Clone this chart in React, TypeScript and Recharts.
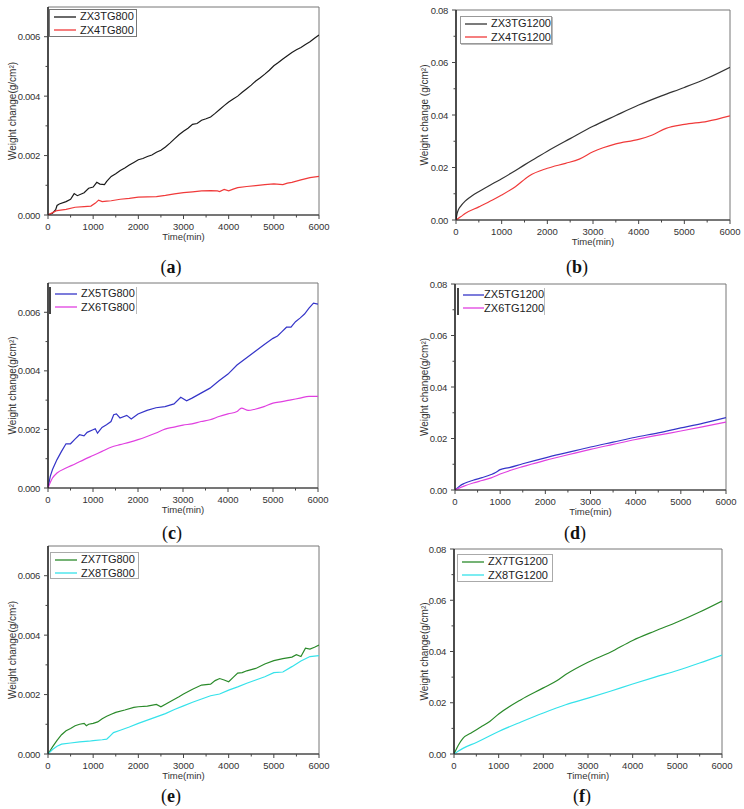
import React from "react";
import { LineChart, Line, XAxis, YAxis, Legend, ReferenceArea, Label } from "recharts";

// time axis ticks (minor every 500 min, labels every 1000)
const timeTicks = [0, 500, 1000, 1500, 2000, 2500, 3000, 3500, 4000, 4500, 5000, 5500, 6000];
const tg800Ticks = [0, 0.001, 0.002, 0.003, 0.004, 0.005, 0.006];
const tg1200Ticks = [0, 0.01, 0.02, 0.03, 0.04, 0.05, 0.06, 0.07, 0.08];

// [time (min), weight change (g/cm2)]
const ZX3TG800 = [
  [0, 0], [100, 0.00006], [170, 0.00018], [200, 0.00032], [250, 0.00037], [400, 0.00045], [500, 0.00053],
  [580, 0.00072], [650, 0.00065], [800, 0.00075], [900, 0.0009], [1000, 0.00094], [1080, 0.0011],
  [1150, 0.00104], [1250, 0.00102], [1300, 0.00113], [1400, 0.0013], [1500, 0.00139], [1600, 0.0015],
  [1700, 0.00158], [1800, 0.00168], [1900, 0.00177], [2000, 0.00186], [2100, 0.0019], [2200, 0.00197],
  [2300, 0.00202], [2400, 0.00211], [2500, 0.00218], [2600, 0.00229], [2700, 0.00242], [2800, 0.00256],
  [2900, 0.0027], [3000, 0.00282], [3100, 0.00292], [3200, 0.00305], [3300, 0.00308], [3400, 0.00319],
  [3500, 0.00324], [3600, 0.0033], [3700, 0.00342], [3800, 0.00355], [3900, 0.00368], [4000, 0.0038],
  [4100, 0.0039], [4200, 0.004], [4300, 0.00413], [4400, 0.00425], [4500, 0.00437], [4600, 0.00451],
  [4700, 0.00462], [4800, 0.00474], [4900, 0.00487], [5000, 0.00502], [5100, 0.00513], [5200, 0.00525],
  [5300, 0.00536], [5400, 0.00547], [5500, 0.00556], [5600, 0.00564], [5700, 0.00574], [5800, 0.00583],
  [5900, 0.00595], [6000, 0.00606],
];
const ZX4TG800 = [
  [0, 0], [100, 0.00008], [200, 0.00015], [400, 0.00019], [600, 0.00026], [800, 0.00028], [950, 0.0003],
  [1050, 0.0004], [1120, 0.0005], [1200, 0.00045], [1300, 0.00047], [1400, 0.00048], [1600, 0.00053],
  [1800, 0.00056], [2000, 0.0006], [2200, 0.00061], [2400, 0.00062], [2600, 0.00066], [2800, 0.00071],
  [3000, 0.00075], [3200, 0.00078], [3400, 0.00081], [3600, 0.00082], [3750, 0.00081], [3800, 0.00079],
  [3900, 0.00086], [4000, 0.00081], [4100, 0.00087], [4200, 0.00092], [4400, 0.00096], [4600, 0.00099],
  [4800, 0.00102], [5000, 0.00105], [5200, 0.00102], [5300, 0.00107], [5400, 0.0011], [5600, 0.00118],
  [5800, 0.00126], [6000, 0.0013],
];
const ZX3TG1200 = [
  [0, 0], [25, 0.0025], [50, 0.0038], [100, 0.0052], [200, 0.0072], [300, 0.0086], [400, 0.0098],
  [600, 0.0118], [800, 0.0138], [1000, 0.0157], [1250, 0.0183], [1500, 0.021], [1750, 0.0236],
  [2000, 0.0262], [2500, 0.031], [3000, 0.0357], [3500, 0.0398], [4000, 0.0438], [4500, 0.0473],
  [5000, 0.0505], [5500, 0.054], [6000, 0.0582],
];
const ZX4TG1200 = [
  [0, 0], [100, 0.0012], [200, 0.0025], [500, 0.005], [800, 0.0076], [1000, 0.0095], [1300, 0.0127],
  [1600, 0.0168], [2000, 0.0197], [2400, 0.0216], [2700, 0.0232], [3000, 0.026], [3500, 0.029],
  [4000, 0.0307], [4300, 0.0324], [4600, 0.0349], [5000, 0.0364], [5500, 0.0376], [6000, 0.0397],
];
const ZX5TG800 = [
  [0, 0], [50, 0.0004], [100, 0.00063], [200, 0.00097], [300, 0.00125], [400, 0.00151], [500, 0.00151],
  [600, 0.00167], [700, 0.00182], [800, 0.00178], [870, 0.0019], [1000, 0.00199], [1050, 0.00202],
  [1100, 0.00187], [1200, 0.00207], [1300, 0.00216], [1400, 0.00227], [1460, 0.0025], [1520, 0.00253],
  [1600, 0.00239], [1750, 0.00248], [1850, 0.00236], [2000, 0.00253], [2200, 0.00265], [2400, 0.00274],
  [2600, 0.00278], [2800, 0.00287], [2950, 0.0031], [3080, 0.00298], [3200, 0.00307], [3400, 0.00324],
  [3600, 0.00341], [3800, 0.00366], [4000, 0.00389], [4200, 0.0042], [4400, 0.00443], [4600, 0.00466],
  [4800, 0.00489], [5000, 0.00511], [5100, 0.00519], [5200, 0.00534], [5300, 0.00549], [5400, 0.00549],
  [5500, 0.00568], [5600, 0.0058], [5700, 0.00594], [5800, 0.00614], [5900, 0.00631], [6000, 0.00628],
];
const ZX6TG800 = [
  [0, 0], [100, 0.00034], [200, 0.00051], [400, 0.00068], [600, 0.00082], [800, 0.00097], [1000, 0.00111],
  [1200, 0.00125], [1400, 0.00139], [1600, 0.00148], [1800, 0.00156], [2000, 0.00165], [2200, 0.00176],
  [2400, 0.00188], [2600, 0.00201], [2800, 0.00208], [3000, 0.00215], [3200, 0.00219], [3400, 0.00227],
  [3600, 0.00233], [3800, 0.00244], [4000, 0.00253], [4200, 0.00261], [4300, 0.00273], [4450, 0.00265],
  [4600, 0.00269], [4800, 0.00278], [5000, 0.0029], [5200, 0.00295], [5400, 0.00301], [5600, 0.00307],
  [5800, 0.00313], [6000, 0.00313],
];
const ZX5TG1200 = [
  [0, 0], [100, 0.0015], [200, 0.0025], [400, 0.0038], [600, 0.0048], [800, 0.006], [900, 0.0068],
  [1000, 0.0079], [1200, 0.0087], [1500, 0.0102], [2000, 0.0125], [2500, 0.0146], [3000, 0.0167],
  [3500, 0.0186], [4000, 0.0205], [4500, 0.0222], [5000, 0.0241], [5500, 0.026], [6000, 0.0281],
];
const ZX6TG1200 = [
  [0, 0], [200, 0.0015], [400, 0.0027], [600, 0.0037], [800, 0.0047], [1000, 0.0062], [1500, 0.0091],
  [2000, 0.0115], [2500, 0.0137], [3000, 0.0158], [3500, 0.0177], [4000, 0.0196], [4500, 0.0213],
  [5000, 0.0229], [5500, 0.0246], [6000, 0.0264],
];
const ZX7TG800 = [
  [0, 0], [100, 0.00024], [200, 0.00046], [300, 0.00065], [400, 0.00078], [500, 0.00086], [600, 0.00095],
  [700, 0.001], [800, 0.00103], [850, 0.00095], [900, 0.001], [1000, 0.00103], [1100, 0.00108],
  [1200, 0.00119], [1300, 0.00127], [1400, 0.00134], [1500, 0.0014], [1700, 0.00148], [1900, 0.00157],
  [2000, 0.00159], [2200, 0.00161], [2400, 0.00167], [2500, 0.00159], [2700, 0.00176], [2900, 0.00193],
  [3000, 0.00202], [3200, 0.00218], [3400, 0.00232], [3600, 0.00235], [3700, 0.00247], [3800, 0.00254],
  [3900, 0.00249], [4000, 0.00243], [4100, 0.00258], [4200, 0.00272], [4300, 0.00274], [4400, 0.0028],
  [4600, 0.00288], [4800, 0.00303], [5000, 0.00314], [5200, 0.00321], [5400, 0.00326], [5500, 0.00334],
  [5600, 0.00328], [5700, 0.00356], [5800, 0.00353], [5900, 0.00359], [6000, 0.00367],
];
const ZX8TG800 = [
  [0, 0], [100, 0.00015], [200, 0.00026], [300, 0.00033], [500, 0.00037], [700, 0.00041], [900, 0.00043],
  [1000, 0.00045], [1200, 0.00048], [1300, 0.0005], [1350, 0.00057], [1450, 0.00072], [1600, 0.0008],
  [1800, 0.00091], [2000, 0.00103], [2200, 0.00114], [2400, 0.00125], [2600, 0.00136], [2800, 0.0015],
  [3000, 0.00162], [3200, 0.00174], [3400, 0.00185], [3600, 0.00196], [3800, 0.00202], [4000, 0.00215],
  [4200, 0.00226], [4400, 0.00238], [4600, 0.00249], [4800, 0.0026], [5000, 0.00274], [5200, 0.00276],
  [5400, 0.00294], [5600, 0.00313], [5800, 0.00328], [6000, 0.00331],
];
const ZX7TG1200 = [
  [0, 0], [100, 0.0035], [200, 0.0061], [400, 0.0084], [600, 0.0105], [800, 0.0127], [1000, 0.0156],
  [1500, 0.0212], [2000, 0.0258], [2300, 0.0286], [2500, 0.031], [3000, 0.0358], [3500, 0.0397],
  [4000, 0.0443], [4500, 0.048], [5000, 0.0515], [5500, 0.0554], [6000, 0.0597],
];
const ZX8TG1200 = [
  [0, 0], [100, 0.0012], [200, 0.0022], [500, 0.0045], [1000, 0.0088], [1500, 0.0125], [2000, 0.016],
  [2500, 0.0192], [3000, 0.0218], [3500, 0.0245], [4000, 0.0273], [4500, 0.03], [5000, 0.0326],
  [5500, 0.0355], [6000, 0.0386],
];

const FONT = "'Liberation Sans', Arial, sans-serif";

type Series = { name: string; color: string; points: number[][]; smooth?: boolean };

const toRows = (pts: number[][]) => pts.map(([t, w]) => ({ t, w }));

function XTick(props: any) {
  const { x, y, payload } = props;
  const v = payload.value;
  const major = v % 1000 === 0;
  return (
    <g>
      <line x1={x} x2={x} y1={y} y2={y + (major ? 4 : 2.5)} stroke="#444" />
      {major && (
        <text x={x} y={y + 15} textAnchor="middle" fontSize={9.5} fontFamily={FONT} fill="#333">
          {v}
        </text>
      )}
    </g>
  );
}

function YTick(props: any) {
  const { x, y, payload, step, decimals } = props;
  const v = payload.value;
  const major = Math.round(v / step) % 2 === 0;
  return (
    <g>
      <line x1={x - (major ? 4 : 2.5)} x2={x} y1={y} y2={y} stroke="#444" />
      {major && (
        <text x={x - 8} y={y + 3.5} textAnchor="end" fontSize={9.5} letterSpacing={-0.3} fontFamily={FONT} fill="#333">
          {v.toFixed(decimals)}
        </text>
      )}
    </g>
  );
}

type PanelProps = {
  left: number;
  top: number;
  margin: { top: number; right: number; bottom: number; left: number };
  yMax: number;
  yTicks: number[];
  step: number;
  decimals: number;
  yTitle: string;
  titleOffset: number;
  series: Series[];
  legendPos: { left: number; top: number };
  legendBox: React.CSSProperties;
  tag: string;
  tagX: number;
  tagY: number;
};

function Panel(p: PanelProps) {
  const W = 372;
  const H = 255;
  // axes get 1px of room so that they are drawn; margins shrink by the same amount
  const m = { ...p.margin, left: p.margin.left - 1, bottom: p.margin.bottom - 1 };
  const renderLegend = (lp: any) => (
    <div style={{ ...p.legendBox, fontFamily: FONT, fontSize: 11, color: "#222", boxSizing: "border-box" }}>
      {(lp.payload || []).map((e: any) => (
        <div key={e.value} style={{ display: "flex", alignItems: "center", height: 13.5 }}>
          <svg width={26} height={4} style={{ marginLeft: 4 }}>
            <line x1={0} x2={22} y1={2} y2={2} stroke={e.color} strokeWidth={1.3} />
          </svg>
          <span style={{ lineHeight: "13.5px", whiteSpace: "nowrap" }}>{e.value}</span>
        </div>
      ))}
    </div>
  );
  return (
    <div style={{ position: "absolute", left: p.left, top: p.top, width: W, height: 270 }}>
      <LineChart width={W} height={H} margin={m}>
        <XAxis
          dataKey="t"
          type="number"
          domain={[0, 6000]}
          ticks={timeTicks}
          interval={0}
          height={1}
          tickSize={0}
          tickMargin={0}
          tickLine={false}
          tick={(tp: any) => <XTick {...tp} />}
          axisLine={{ stroke: "#333" }}
          allowDataOverflow
        >
          <Label
            content={(lp: any) => {
              const vb = lp.viewBox;
              return (
                <text x={vb.x + vb.width / 2} y={vb.y + 25} textAnchor="middle" fontSize={9.5} fontFamily={FONT} fill="#333">
                  Time(min)
                </text>
              );
            }}
          />
        </XAxis>
        <YAxis
          type="number"
          domain={[0, p.yMax]}
          ticks={p.yTicks}
          interval={0}
          width={1}
          tickSize={0}
          tickMargin={0}
          tickLine={false}
          tick={(tp: any) => <YTick {...tp} step={p.step} decimals={p.decimals} />}
          axisLine={{ stroke: "#111", strokeWidth: 1.3 }}
          allowDataOverflow
        >
          <Label
            content={(lp: any) => {
              const vb = lp.viewBox;
              const cx = vb.x + vb.width - p.titleOffset;
              const cy = vb.y + vb.height / 2;
              return (
                <text
                  transform={`translate(${cx},${cy}) rotate(-90)`}
                  textAnchor="middle"
                  dominantBaseline="central"
                  fontSize={10}
                  fontFamily={FONT}
                  fill="#333"
                >
                  {p.yTitle}
                </text>
              );
            }}
          />
        </YAxis>
        <ReferenceArea x1={0} x2={6000} y1={0} y2={p.yMax} fill="none" stroke="#777" strokeWidth={1} />
        {p.series.map((s) => (
          <Line
            key={s.name}
            data={toRows(s.points)}
            dataKey="w"
            name={s.name}
            type={s.smooth ? "monotone" : "linear"}
            stroke={s.color}
            strokeWidth={1.2}
            dot={false}
            activeDot={false}
            isAnimationActive={false}
          />
        ))}
        <Legend
          layout="vertical"
          align="center"
          verticalAlign="middle"
          content={renderLegend}
          wrapperStyle={{ left: p.legendPos.left, top: p.legendPos.top, width: "auto", height: "auto" }}
        />
      </LineChart>
      <div
        style={{
          position: "absolute",
          left: p.tagX - 30,
          top: p.tagY - 11,
          width: 60,
          textAlign: "center",
          fontFamily: "'Liberation Serif', 'DejaVu Serif', serif",
          fontSize: 18,
          lineHeight: "22px",
          color: "#111",
        }}
      >
        (<b>{p.tag}</b>)
      </div>
    </div>
  );
}

const boxA: React.CSSProperties = { width: 88, height: 28, border: "1px solid #777" };
const boxB: React.CSSProperties = { width: 92, height: 28, border: "1px solid #999", boxShadow: "1px 1px 0 #bbb" };
const boxC: React.CSSProperties = { width: 88, height: 27, borderLeft: "2px solid #444", borderRight: "1px solid #bbb" };
const boxE: React.CSSProperties = { width: 89, height: 27, border: "1px solid #aaa" };
const boxF: React.CSSProperties = { width: 96, height: 28, border: "1px solid #aaa" };

export default function App() {
  return (
    <div style={{ position: "absolute", left: 0, top: 0, width: 744, height: 809, background: "#fff", overflow: "hidden" }}>
      <Panel
        left={0}
        top={0}
        margin={{ top: 7, right: 53, bottom: 40, left: 48 }}
        yMax={0.007}
        yTicks={tg800Ticks}
        step={0.001}
        decimals={3}
        yTitle="Weight change(g/cm²)"
        titleOffset={36}
        series={[
          { name: "ZX3TG800", color: "#1a1a1a", points: ZX3TG800 },
          { name: "ZX4TG800", color: "#f03a3a", points: ZX4TG800 },
        ]}
        legendPos={{ left: 49, top: 9 }}
        legendBox={boxA}
        tag="a"
        tagX={171}
        tagY={267}
      />
      <Panel
        left={372}
        top={0}
        margin={{ top: 10, right: 14, bottom: 35, left: 84 }}
        yMax={0.08}
        yTicks={tg1200Ticks}
        step={0.01}
        decimals={2}
        yTitle="Weight change (g/cm²)"
        titleOffset={32}
        series={[
          { name: "ZX3TG1200", color: "#333333", points: ZX3TG1200, smooth: true },
          { name: "ZX4TG1200", color: "#f03a3a", points: ZX4TG1200, smooth: true },
        ]}
        legendPos={{ left: 88, top: 16 }}
        legendBox={boxB}
        tag="b"
        tagX={205}
        tagY={267}
      />
      <Panel
        left={0}
        top={270}
        margin={{ top: 13, right: 54, bottom: 37, left: 48 }}
        yMax={0.007}
        yTicks={tg800Ticks}
        step={0.001}
        decimals={3}
        yTitle="Weight change(g/cm²)"
        titleOffset={36}
        series={[
          { name: "ZX5TG800", color: "#3535c8", points: ZX5TG800 },
          { name: "ZX6TG800", color: "#e040e0", points: ZX6TG800, smooth: true },
        ]}
        legendPos={{ left: 49, top: 17 }}
        legendBox={boxC}
        tag="c"
        tagX={172}
        tagY={263}
      />
      <Panel
        left={372}
        top={270}
        margin={{ top: 14, right: 18, bottom: 35, left: 83 }}
        yMax={0.08}
        yTicks={tg1200Ticks}
        step={0.01}
        decimals={2}
        yTitle="Weight change(g/cm²)"
        titleOffset={31}
        series={[
          { name: "ZX5TG1200", color: "#3535c8", points: ZX5TG1200, smooth: true },
          { name: "ZX6TG1200", color: "#e040e0", points: ZX6TG1200, smooth: true },
        ]}
        legendPos={{ left: 85, top: 18 }}
        legendBox={boxC}
        tag="d"
        tagX={203}
        tagY={263}
      />
      <Panel
        left={0}
        top={535}
        margin={{ top: 11, right: 53, bottom: 36, left: 48 }}
        yMax={0.007}
        yTicks={tg800Ticks}
        step={0.001}
        decimals={3}
        yTitle="Weight change(g/cm²)"
        titleOffset={36}
        series={[
          { name: "ZX7TG800", color: "#2a8a2a", points: ZX7TG800 },
          { name: "ZX8TG800", color: "#35e2ea", points: ZX8TG800 },
        ]}
        legendPos={{ left: 50, top: 17 }}
        legendBox={boxE}
        tag="e"
        tagX={171}
        tagY={261}
      />
      <Panel
        left={372}
        top={535}
        margin={{ top: 14, right: 22, bottom: 36, left: 82 }}
        yMax={0.08}
        yTicks={tg1200Ticks}
        step={0.01}
        decimals={2}
        yTitle="Weight change(g/cm²)"
        titleOffset={30}
        series={[
          { name: "ZX7TG1200", color: "#2a8a2a", points: ZX7TG1200, smooth: true },
          { name: "ZX8TG1200", color: "#35e2ea", points: ZX8TG1200, smooth: true },
        ]}
        legendPos={{ left: 85, top: 19 }}
        legendBox={boxF}
        tag="f"
        tagX={210}
        tagY={261}
      />
    </div>
  );
}
